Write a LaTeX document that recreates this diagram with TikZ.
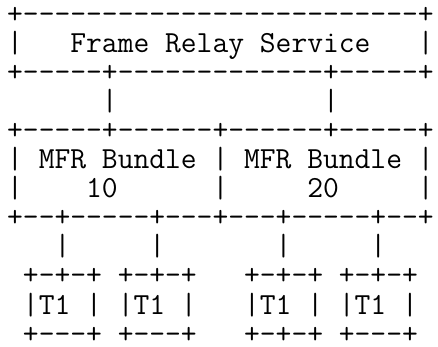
\documentclass[tikz,border=0pt]{standalone}
\begin{document}
\begin{tikzpicture}
[x=1pt,y=-1pt,
  rowdecorate/.style={anchor=base west,inner sep=0pt,
    font=\ttfamily\fontsize{30.67pt}{30pt}\selectfont}]
\useasboundingbox (0,0) rectangle (438,346);
%% rows of the sketch
\foreach \rowtext [count=\i] in {%
  +-------------------------+,
  |~~~Frame~Relay~Service~~~|,
  +-----+-------------+-----+,
  ~~~~~~|~~~~~~~~~~~~~|,
  +-----+------+------+-----+,
  |~MFR~Bundle~|~MFR~Bundle~|,
  |~~~~10~~~~~~|~~~~~20~~~~~|,
  +--+-----+---+---+-----+--+,
  ~~~|~~~~~|~~~~~~~|~~~~~|,
  ~+-+-+~+-+-+~~~+-+-+~+-+-+,
  ~|T1~|~|T1~|~~~|T1~|~|T1~|,
  ~+---+~+---+~~~+-+-+~+---+} {
  \node (row\i) at (7,{23.5+(\i-1)*29.05}) [rowdecorate] {\rowtext};
}
\end{tikzpicture}
\end{document}
